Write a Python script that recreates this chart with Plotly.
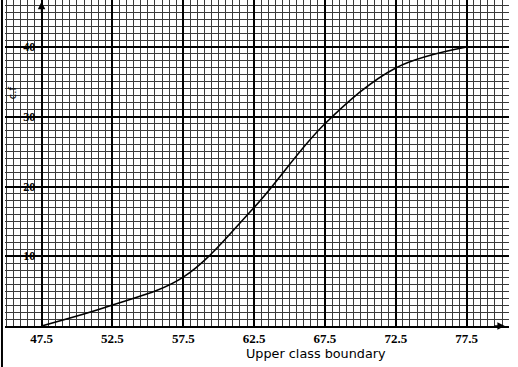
import plotly.graph_objects as go

# Data read from the ogive
upper_boundary = [47.5, 52.5, 57.5, 62.5, 67.5, 72.5, 77.5]
cum_freq = [0, 3, 7, 17, 29, 37, 40]
y_ticks = [10, 20, 30, 40]
x_title = "Upper class boundary"
y_title = "c.f"

X0, X1 = 44.92, 80.49
Y0, Y1 = 0, 46.74

fig = go.Figure()
fig.add_trace(go.Scatter(
    x=upper_boundary, y=cum_freq, mode="lines",
    line=dict(color="black", width=1.6, shape="spline", smoothing=1.0),
    showlegend=False, hoverinfo="skip"))

grid_minor = "#3a3a3a"
tick_font = dict(family="Liberation Sans Narrow", size=13, color="black", weight="bold")
fig.update_layout(
    width=518, height=367, autosize=False,
    margin=dict(l=5, r=9, t=0, b=41),
    paper_bgcolor="white", plot_bgcolor="white",
    xaxis=dict(
        range=[X0, X1], tick0=47.5, dtick=5,
        showgrid=True, gridcolor="black", gridwidth=2,
        showline=True, linecolor="black", linewidth=2,
        zeroline=False, ticks="", ticklabelstandoff=-1,
        tickfont=tick_font,
        minor=dict(tick0=47.5, dtick=0.5, showgrid=True, gridcolor=grid_minor, gridwidth=1),
    ),
    yaxis=dict(
        range=[Y0, Y1], tickmode="array", tickvals=y_ticks,
        showgrid=True, gridcolor="black", gridwidth=2,
        anchor="free", position=(47.5 - X0) / (X1 - X0),
        showline=True, linecolor="black", linewidth=2,
        zeroline=False, ticks="", ticklabelstandoff=3,
        tickfont=dict(family="Liberation Sans Narrow", size=12, color="black", weight="bold"),
        minor=dict(tick0=0, dtick=1, showgrid=True, gridcolor=grid_minor, gridwidth=1),
    ),
    annotations=[
        dict(text=x_title, x=66.9, xref="x", y=-0.085, yref="paper",
             showarrow=False, xanchor="center", yanchor="middle",
             font=dict(family="DejaVu Sans", size=12.8, color="black")),
        dict(text=y_title, x=45.43, xref="x", y=33.4, yref="y", textangle=-90,
             showarrow=False,
             font=dict(family="DejaVu Sans", size=10, color="black")),
        dict(text="", x=47.5, y=46.5, xref="x", yref="y", ax=0, ay=12,
             showarrow=True, arrowhead=2, arrowsize=1, arrowwidth=1.5, arrowcolor="black"),
        dict(text="", x=80.2, y=0, xref="x", yref="y", ax=-12, ay=0,
             showarrow=True, arrowhead=2, arrowsize=1, arrowwidth=1.5, arrowcolor="black"),
    ],
    shapes=[
        dict(type="line", xref="paper", yref="paper", x0=-0.006, x1=-0.006,
             y0=-0.126, y1=1, line=dict(color="black", width=2)),
    ],
)

fig.write_html("out.html", config={"displayModeBar": False},
               post_script="document.body.style.margin='0';document.body.style.overflow='hidden';")
